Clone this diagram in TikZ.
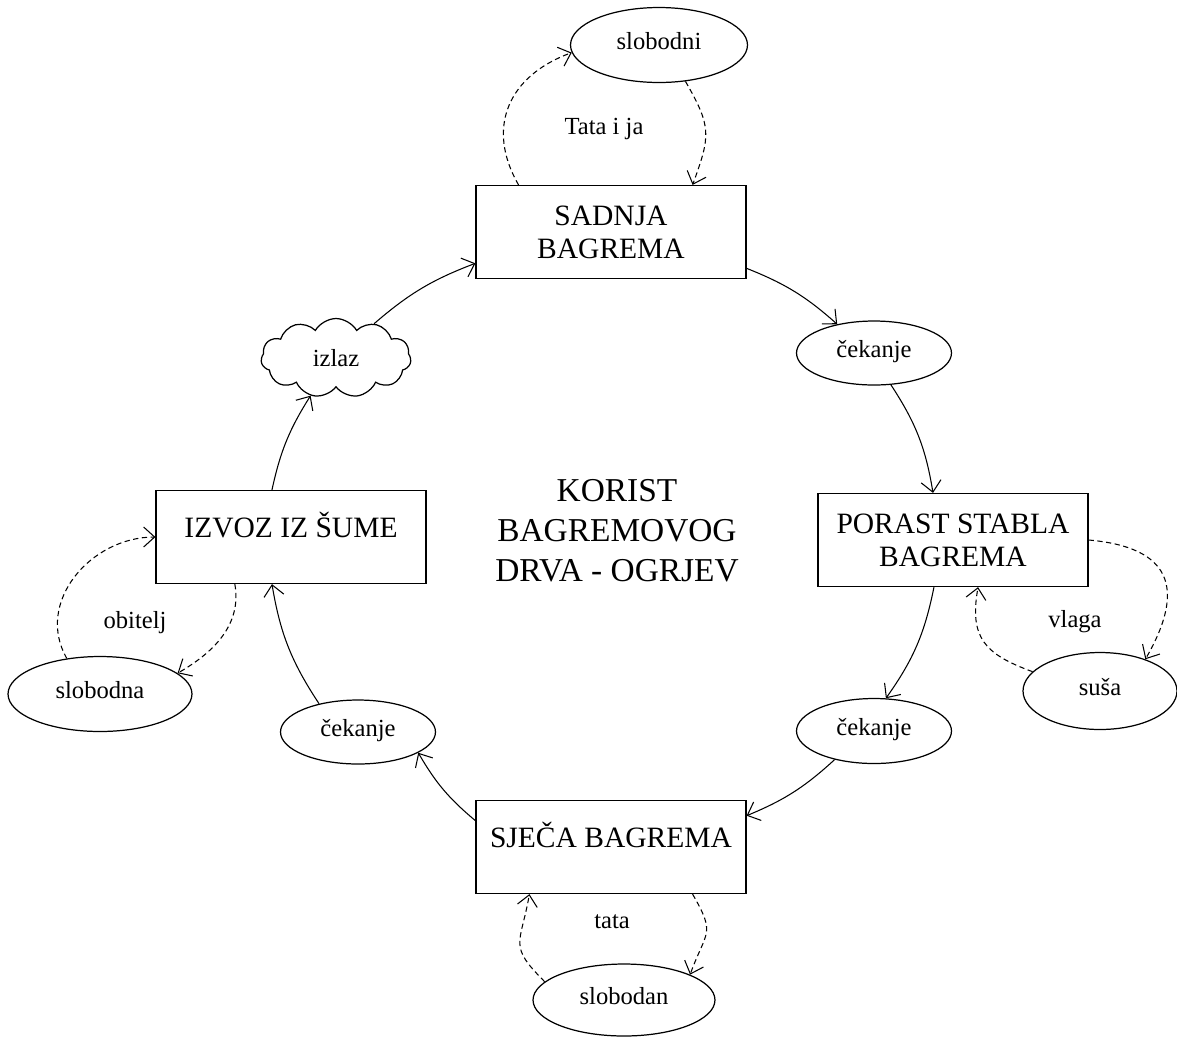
\documentclass[tikz,border=0pt]{standalone}
\usepackage{fontspec}
\setmainfont{Liberation Serif}
\usetikzlibrary{shapes.geometric,shapes.symbols,arrows.meta}

\begin{document}
\begin{tikzpicture}[x=0.02cm,y=-0.02cm,
  >={Straight Barb[length=2.2mm,width=4mm]},
  blok/.style={draw, line width=0.7pt, minimum width=5.4cm, minimum height=1.86cm, align=center, font=\fontsize{16.8}{18.7}\selectfont},
  gore/.style={text height=12pt, text depth=12pt},
  oval/.style={draw, ellipse, line width=0.7pt, inner sep=0pt, text height=10pt, text depth=5pt, font=\fontsize{14}{16}\selectfont},
  mali/.style={font=\fontsize{14}{16}\selectfont},
  tok/.style={->, line width=0.6pt},
  usput/.style={->, line width=0.6pt, dash pattern=on 3pt off 2pt}]
  \useasboundingbox (0,0) rectangle (1177,1039);

  \node[blok] (sadnja) at (611,232) {SADNJA\\BAGREMA};
  \node[blok] (porast) at (953,540) {PORAST STABLA\\BAGREMA};
  \node[blok, gore] (sjeca) at (611,847) {SJEČA BAGREMA};
  \node[blok, gore] (izvoz) at (291,537) {IZVOZ IZ ŠUME};

  \node[oval, minimum width=3.54cm, minimum height=1.5cm] (slobodni) at (659,45) {slobodni};
  \node[oval, minimum width=3.1cm, minimum height=1.28cm] (cek1) at (874,353) {čekanje};
  \node[oval, minimum width=3.1cm, minimum height=1.3cm] (cek2) at (874,731) {čekanje};
  \node[oval, minimum width=3.1cm, minimum height=1.28cm] (cek3) at (358,732) {čekanje};
  \node[oval, minimum width=3.08cm, minimum height=1.54cm] (susa) at (1100,691) {suša};
  \node[oval, minimum width=3.64cm, minimum height=1.44cm] (slobodan) at (624,1000) {slobodan};
  \node[oval, minimum width=3.68cm, minimum height=1.5cm] (slobodna) at (100,694) {slobodna};
  \node[draw, cloud, cloud puffs=11, cloud puff arc=120, aspect=1.9, line width=0.7pt, inner sep=0pt,
        minimum width=3.0cm, minimum height=1.58cm, mali] (izlaz) at (336,358) {izlaz};

  \node[align=center, font=\fontsize{19}{22.7}\selectfont] (korist) at (617,531) {KORIST\\BAGREMOVOG\\DRVA - OGRJEV};

  \node[mali] (tataija) at (604,129) {Tata i ja};
  \node[mali] (vlaga) at (1075,622) {vlaga};
  \node[mali] (tata) at (612,922) {tata};
  \node[mali] (obitelj) at (135,623) {obitelj};

  % glavni krug
  \draw[tok] (sadnja.-15) to[bend left=10] (cek1.142);
  \draw[tok] (cek1.-62) to[bend left=12] (porast.113);
  \draw[tok] (porast.-112) to[bend left=12] (cek2.70);
  \draw[tok] (cek2.-144) to[bend left=10] (sjeca.13);
  \draw[tok] (sjeca.169) to[bend left=10] (cek3.-19);
  \draw[tok] (cek3.144) to[bend left=12] (izvoz.-112);
  \draw[tok] (izvoz.112) to[bend left=10] (izlaz.-124);
  \draw[tok] (izlaz.42) to[bend left=10] (sadnja.-167);

  % petlje
  \draw[usput] (sadnja.153) to[out=120, in=200, looseness=1.2] (slobodni.185);
  \draw[usput] (slobodni.-54) to[out=-60, in=70, looseness=1.3] (sadnja.30);
  \draw[usput] (porast.east) to[out=-5, in=60, looseness=1.6] (susa.35);
  \draw[usput] (susa.164) to[out=160, in=-100, looseness=1.3] (porast.-62);
  \draw[usput] (sjeca.-30) to[out=-60, in=70, looseness=1.5] (slobodan.21);
  \draw[usput] (slobodan.167) to[out=135, in=-100, looseness=1.5] (sjeca.-150);
  \draw[usput] (slobodna.133) to[out=120, in=180, looseness=1.1] (izvoz.west);
  \draw[usput] (izvoz.-140) to[out=-80, in=30] (slobodna.15);
\end{tikzpicture}
\end{document}
